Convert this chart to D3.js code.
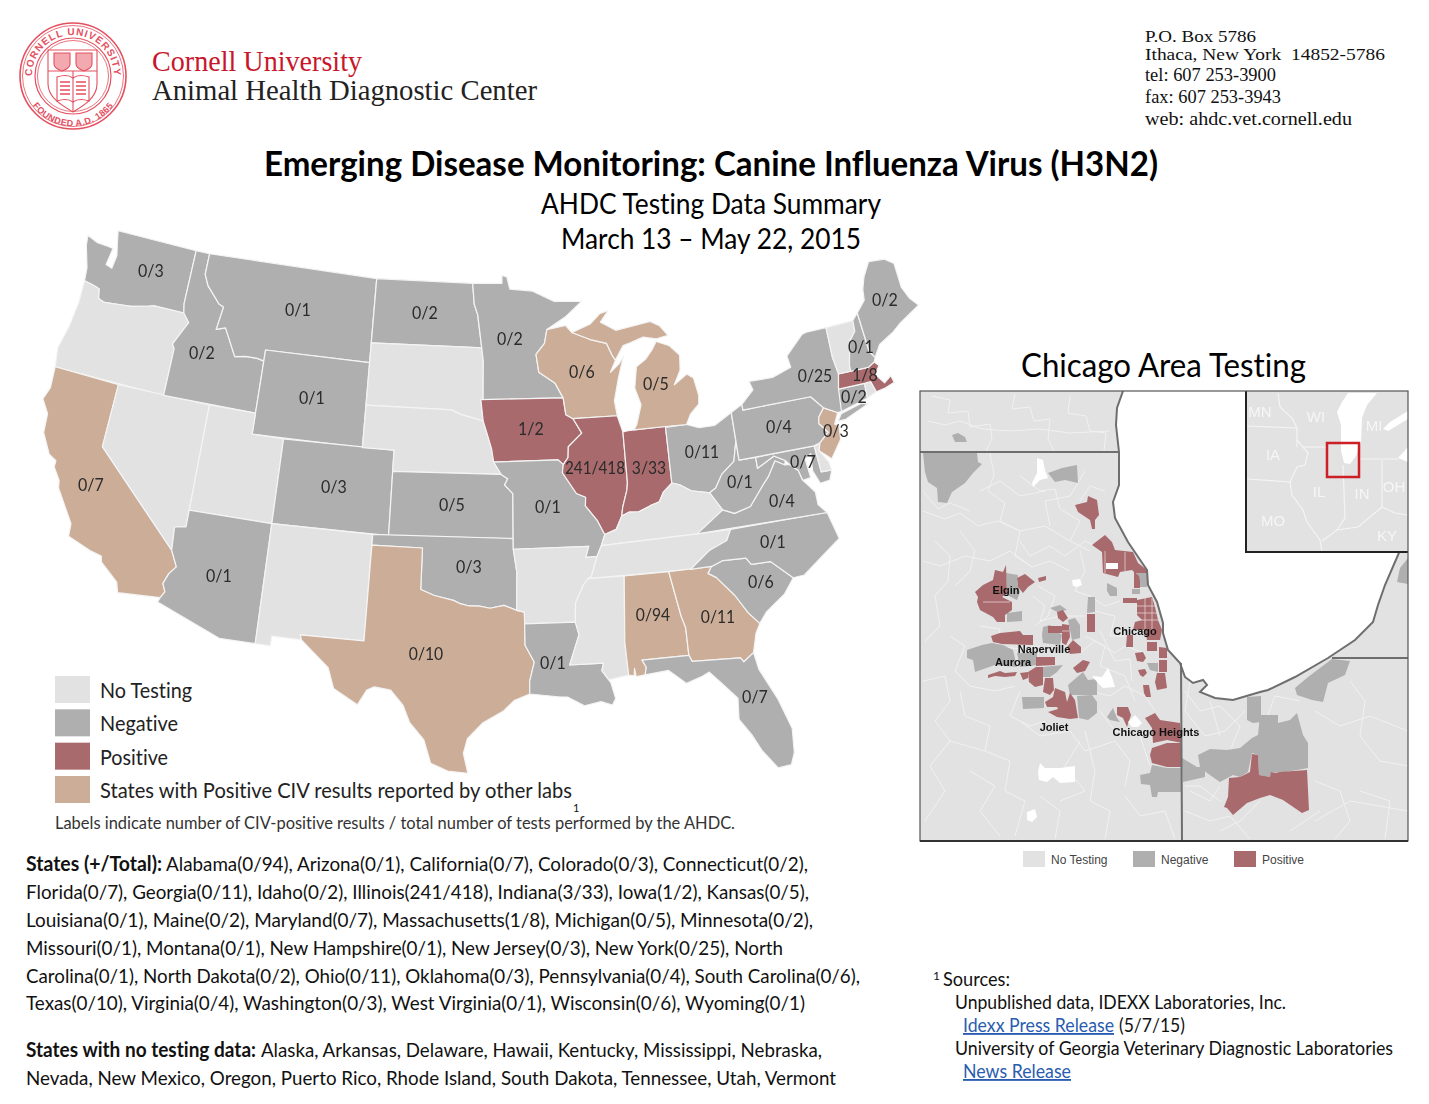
<!DOCTYPE html>
<html>
<head>
<meta charset="utf-8">
<title>Emerging Disease Monitoring: Canine Influenza Virus (H3N2)</title>
<style>
  * { margin: 0; padding: 0; }
  body { background: white; }
  svg { display: block; }
  text { font-family: Lato, "Open Sans", sans-serif; font-variant-ligatures: none; }
  .serif { font-family: "Liberation Serif", serif; }
  .arial { font-family: "Liberation Sans", Arial, sans-serif; }
  .soft { filter: blur(0.45px); }
</style>
</head>
<body>
<svg id="sheet" width="1429" height="1104"></svg>
<script src="https://d3js.org/d3.v7.min.js"></script>
<script>
// test counts per state
const stateCodes = ["WA","MT","ND","MN","ID","WY","CA","CO","KS","OK","AZ","TX","MO","IA","IL","IN","WI","MI","OH","PA","NY","ME","NH","MA","CT","NJ","MD","WV","VA","NC","SC","AL","GA","LA","FL"];
const positives  = [0,0,0,0,0,0,0,0,0,0,0,0,0,1,241,3,0,0,0,0,0,0,0,1,0,0,0,0,0,0,0,0,0,0,0];
const totals     = [3,1,2,2,2,1,7,3,5,3,1,10,1,2,418,33,6,5,11,4,25,2,1,8,2,3,7,1,4,1,6,94,11,1,7];
const otherLabStates = ["CA","TX","WI","MI","AL","GA","NJ"];

const legendLabels = ["No Testing","Negative","Positive","States with Positive CIV results reported by other labs"];
const chicagoLegendLabels = ["No Testing","Negative","Positive"];
const cityLabels = ["Elgin","Chicago","Naperville","Aurora","Joliet","Chicago Heights"];
const insetLabels = ["MN","WI","MI","IA","IL","IN","OH","MO","KY"];

// state outlines, lon/lat
const stateShapes = {
  WA: [[-124.7,48.38],[-123.9,48.17],[-123.1,48.15],[-122.75,48.12],[-122.9,47.3],[-122.45,47.2],[-122.35,47.85],[-122.55,48.4],[-122.75,49],[-117.03,49],[-117.04,46.42],[-116.92,45.99],[-118.98,46],[-119.3,45.93],[-120.5,45.7],[-121.2,45.65],[-122.3,45.55],[-122.75,45.65],[-122.9,46.1],[-123.4,46.2],[-124,46.27],[-124.1,46.9],[-124.6,47.9]],
  OR: [[-124,46.27],[-123.4,46.2],[-122.9,46.1],[-122.75,45.65],[-122.3,45.55],[-121.2,45.65],[-120.5,45.7],[-119.3,45.93],[-118.98,46],[-116.92,45.99],[-116.46,45.6],[-116.85,45],[-117.2,44.45],[-117.03,44.25],[-117.03,42],[-124.2,42],[-124.4,42.9],[-124.1,44],[-123.95,45.2]],
  CA: [[-124.2,42],[-120,42],[-120,39],[-114.6,35],[-114.15,34.28],[-114.5,33.9],[-114.72,33.4],[-114.52,33.03],[-114.72,32.72],[-117.12,32.53],[-117.3,33],[-118.4,33.75],[-118.5,34.03],[-119.2,34.15],[-120.6,34.55],[-120.65,35.15],[-121.9,36.6],[-122,36.96],[-122.5,37.5],[-122.5,37.8],[-123,38],[-123.7,38.9],[-123.8,39.8],[-124.35,40.4],[-124.1,41]],
  NV: [[-120,42],[-114.04,42],[-114.04,36.2],[-114.7,36.1],[-114.6,35],[-120,39]],
  ID: [[-117.03,49],[-116.05,49],[-116.05,48],[-115.7,47.5],[-114.7,46.75],[-114.35,46.65],[-114.55,45.55],[-113.95,45.7],[-113.45,45.05],[-113,44.45],[-112.3,44.55],[-111.5,44.55],[-111.05,44.47],[-111.05,42],[-117.03,42],[-117.03,44.25],[-117.2,44.45],[-116.85,45],[-116.46,45.6],[-116.92,45.99],[-117.04,46.42]],
  MT: [[-116.05,49],[-104.05,49],[-104.05,45],[-111.05,45],[-111.05,44.47],[-111.5,44.55],[-112.3,44.55],[-113,44.45],[-113.45,45.05],[-113.95,45.7],[-114.55,45.55],[-114.35,46.65],[-114.7,46.75],[-115.7,47.5],[-116.05,48]],
  WY: [[-111.05,45],[-104.05,45],[-104.05,41],[-111.05,41]],
  UT: [[-114.04,42],[-111.05,42],[-111.05,41],[-109.05,41],[-109.05,37],[-114.04,37]],
  CO: [[-109.05,41],[-102.05,41],[-102.05,37],[-109.05,37]],
  AZ: [[-114.04,37],[-109.05,37],[-109.05,31.33],[-111.07,31.33],[-114.81,32.5],[-114.72,32.72],[-114.52,33.03],[-114.72,33.4],[-114.5,33.9],[-114.15,34.28],[-114.6,35],[-114.7,36.1],[-114.04,36.2]],
  NM: [[-109.05,37],[-103,37],[-103.05,32],[-106.62,32],[-106.53,31.78],[-108.2,31.78],[-108.2,31.33],[-109.05,31.33]],
  ND: [[-104.05,49],[-97.23,49],[-97.1,48],[-96.85,47.5],[-96.56,45.94],[-104.05,45.94]],
  SD: [[-104.05,45.94],[-96.56,45.94],[-96.45,45.3],[-96.45,43.5],[-96.6,43.5],[-96.44,42.5],[-97.9,42.8],[-98.5,43],[-104.05,43]],
  NE: [[-104.05,43],[-98.5,43],[-97.9,42.8],[-96.44,42.5],[-96.1,41.7],[-95.9,41.2],[-95.77,40.58],[-95.31,40],[-102.05,40],[-102.05,41],[-104.05,41]],
  KS: [[-102.05,40],[-95.31,40],[-94.9,39.8],[-95.1,39.5],[-94.6,39.1],[-94.62,37],[-102.05,37]],
  OK: [[-103,37],[-94.62,37],[-94.62,36.5],[-94.43,35.4],[-94.48,33.64],[-95.2,33.88],[-96,33.75],[-96.6,33.85],[-97.2,33.85],[-97.7,33.95],[-98.1,34.1],[-99.2,34.3],[-100,34.56],[-100,36.5],[-103,36.5]],
  TX: [[-106.62,32],[-103.05,32],[-103,36.5],[-100,36.5],[-100,34.56],[-99.2,34.3],[-98.1,34.1],[-97.7,33.95],[-97.2,33.85],[-96.6,33.85],[-96,33.75],[-95.2,33.88],[-94.48,33.64],[-94.04,33.55],[-94.04,32],[-93.55,31.2],[-93.83,30.3],[-93.84,29.7],[-94.7,29.4],[-95.3,28.9],[-96.4,28.35],[-97.2,27.6],[-97.4,26.9],[-97.15,25.96],[-98.2,26.05],[-99.1,26.4],[-99.5,27.5],[-100.3,28.3],[-100.7,29.1],[-101.4,29.77],[-102.3,29.88],[-102.7,29.7],[-103.15,28.98],[-104.5,29.65],[-104.9,30.6],[-106,31.4],[-106.53,31.78]],
  MN: [[-97.23,49],[-95.15,49],[-95.15,49.38],[-94.8,49.3],[-94.6,48.72],[-93,48.6],[-91.5,48.07],[-89.6,48],[-90.8,47.3],[-92.1,46.75],[-92.3,46.1],[-92.9,45.6],[-92.75,44.75],[-91.7,44.2],[-91.22,43.5],[-96.45,43.5],[-96.45,45.3],[-96.56,45.94],[-96.85,47.5],[-97.1,48]],
  IA: [[-96.6,43.5],[-91.22,43.5],[-91.1,42.7],[-90.65,42.5],[-90.15,41.8],[-91.05,41.2],[-91.1,40.7],[-91.42,40.38],[-91.73,40.61],[-95.77,40.58],[-95.9,41.2],[-96.1,41.7],[-96.44,42.5]],
  MO: [[-95.77,40.58],[-91.73,40.61],[-91.42,40.38],[-91.5,40],[-90.7,39],[-90.15,38.8],[-90.2,38.4],[-89.55,37.7],[-89.15,37],[-89.4,36.5],[-89.7,36],[-90.37,36],[-90.15,36.5],[-94.62,36.5],[-94.62,37],[-94.6,39.1],[-95.1,39.5],[-94.9,39.8],[-95.31,40]],
  AR: [[-94.62,36.5],[-90.15,36.5],[-90.37,36],[-89.7,36],[-90.1,35.1],[-90.6,34.7],[-91.1,33.9],[-91.17,33],[-94.04,33],[-94.04,33.55],[-94.48,33.64],[-94.43,35.4]],
  LA: [[-94.04,33],[-91.17,33],[-91,32.4],[-91.6,31],[-89.73,31],[-89.85,30.65],[-89.5,30.2],[-89.4,30.05],[-89.2,29.3],[-89.4,29],[-90,29.2],[-90.9,29.05],[-91.8,29.5],[-92.3,29.53],[-93.84,29.7],[-93.83,30.3],[-93.55,31.2],[-94.04,32]],
  WI: [[-92.1,46.75],[-90.8,46.9],[-90.4,46.55],[-89.1,46.14],[-88.1,45.92],[-87.8,45.35],[-87.6,45.1],[-88,44.55],[-87.4,44.9],[-87.05,45.25],[-87.53,44.2],[-87.9,43.2],[-87.8,42.49],[-90.65,42.5],[-91.1,42.7],[-91.22,43.5],[-91.7,44.2],[-92.75,44.75],[-92.9,45.6],[-92.3,46.1]],
  IL: [[-90.65,42.5],[-87.8,42.49],[-87.53,41.71],[-87.53,39.35],[-87.6,39],[-87.95,38.2],[-88.05,37.8],[-88.45,37.2],[-89.15,37],[-89.55,37.7],[-90.2,38.4],[-90.15,38.8],[-90.7,39],[-91.5,40],[-91.42,40.38],[-91.1,40.7],[-91.05,41.2],[-90.15,41.8]],
  IN: [[-87.53,41.71],[-87.2,41.75],[-86.82,41.76],[-84.8,41.76],[-84.82,39.1],[-85.4,38.72],[-85.7,38.3],[-86.3,38.15],[-87,37.93],[-87.6,37.95],[-88.05,37.8],[-87.95,38.2],[-87.6,39],[-87.53,39.35]],
  OH: [[-84.8,41.72],[-83.45,41.73],[-82.7,41.5],[-81.7,41.5],[-80.52,41.98],[-80.52,40.64],[-80.85,39.7],[-81.7,39.2],[-82.2,38.6],[-82.6,38.42],[-83.7,38.63],[-84.3,38.95],[-84.82,39.1]],
  KY: [[-89.4,36.5],[-89.15,37],[-88.45,37.2],[-88.05,37.8],[-87.6,37.95],[-87,37.93],[-86.3,38.15],[-85.7,38.3],[-85.4,38.72],[-84.82,39.1],[-84.3,38.95],[-83.7,38.63],[-82.6,38.42],[-81.97,37.54],[-83.68,36.6]],
  TN: [[-89.4,36.5],[-83.68,36.6],[-81.68,36.59],[-82,36.1],[-83.1,35.75],[-84.32,34.99],[-90.3,35],[-90.1,35.1],[-89.7,36]],
  MS: [[-90.3,35],[-88.2,35],[-88.47,31.9],[-88.4,30.35],[-89.5,30.2],[-89.85,30.65],[-89.73,31],[-91.6,31],[-91,32.4],[-91.17,33],[-91.1,33.9],[-90.6,34.7]],
  AL: [[-88.2,35],[-85.6,35],[-85.18,32.87],[-85,32.3],[-85,31],[-87.6,31],[-87.4,30.65],[-87.5,30.3],[-88,30.25],[-88.05,30.65],[-88.1,30.3],[-88.4,30.35],[-88.47,31.9]],
  GA: [[-85.6,35],[-83.1,35],[-83.35,34.7],[-82.9,34.45],[-82,33.5],[-81.4,32.6],[-80.85,32.03],[-81.15,31.6],[-81.45,30.72],[-82.05,30.36],[-82.2,30.57],[-84.86,30.7],[-85,31],[-85,32.3],[-85.18,32.87]],
  FL: [[-87.6,31],[-85,31],[-84.86,30.7],[-82.2,30.57],[-82.05,30.36],[-81.45,30.72],[-81.3,29.9],[-80.55,28.4],[-80.05,26.9],[-80.15,25.75],[-80.4,25.2],[-81.1,25.15],[-81.8,26.1],[-82.2,26.9],[-82.75,27.7],[-82.65,28.7],[-83.4,29.5],[-84,30.1],[-84.4,29.95],[-85.3,29.7],[-86.2,30.4],[-87.5,30.3],[-87.4,30.65]],
  SC: [[-83.35,34.7],[-83.1,35],[-82.4,35.2],[-81.05,35.15],[-80.8,34.82],[-79.67,34.8],[-78.55,33.87],[-79.2,33.2],[-80.4,32.5],[-80.85,32.03],[-81.4,32.6],[-82,33.5],[-82.9,34.45]],
  NC: [[-84.32,34.99],[-83.1,35.75],[-82,36.1],[-81.68,36.59],[-75.87,36.55],[-75.5,35.25],[-76.5,34.7],[-77.9,33.9],[-78.55,33.87],[-79.67,34.8],[-80.8,34.82],[-81.05,35.15],[-82.4,35.2],[-83.1,35]],
  VA: [[-83.68,36.6],[-75.87,36.55],[-76.3,37],[-76.3,37.6],[-76.9,38.25],[-77.05,38.75],[-77.5,39.1],[-77.8,39.13],[-78.35,39.4],[-78.9,38.75],[-79.3,38.42],[-80.3,37.5],[-81.3,37.3],[-81.97,37.54]],
  WV: [[-82.6,38.42],[-82.2,38.6],[-81.7,39.2],[-80.85,39.7],[-80.52,40.64],[-80.52,39.72],[-79.48,39.72],[-79.48,39.2],[-78.35,39.63],[-77.72,39.32],[-77.8,39.13],[-78.35,39.4],[-78.9,38.75],[-79.3,38.42],[-80.3,37.5],[-81.3,37.3],[-81.97,37.54]],
  MD: [[-79.48,39.72],[-75.79,39.72],[-75.7,38.46],[-75.05,38.45],[-75.3,38],[-75.9,37.95],[-76.2,38.6],[-76.1,39.4],[-76.5,39.2],[-76.4,38.3],[-76.9,38.25],[-77.05,38.75],[-77.5,39.1],[-77.72,39.32],[-78.35,39.63],[-79.48,39.2]],
  DE: [[-75.79,39.72],[-75.4,39.8],[-75.55,39.45],[-75.1,38.8],[-75.05,38.45],[-75.7,38.46]],
  PA: [[-80.52,41.98],[-79.76,42.27],[-79.76,42],[-75.35,42],[-74.7,41.36],[-75.13,40.98],[-75.2,40.68],[-74.75,40.2],[-75.4,39.8],[-75.79,39.72],[-80.52,39.72]],
  NJ: [[-74.7,41.36],[-73.9,41],[-74.25,40.5],[-74,40.4],[-74.1,39.75],[-74.9,38.95],[-75.55,39.45],[-75.4,39.8],[-74.75,40.2],[-75.2,40.68],[-75.13,40.98]],
  NY: [[-79.76,42.27],[-78.9,42.85],[-79.05,43.27],[-77.5,43.25],[-76.2,43.55],[-76.3,44.1],[-75,44.95],[-74.7,45],[-73.35,45],[-73.4,43.6],[-73.27,42.75],[-73.5,42.05],[-73.5,41.3],[-73.65,41],[-73.9,41],[-74.7,41.36],[-75.35,42],[-79.76,42]],
  CT: [[-73.5,42.05],[-71.8,42.02],[-71.85,41.32],[-73.65,41]],
  RI: [[-71.8,42.02],[-71.38,42.02],[-71.2,41.5],[-71.85,41.32]],
  MA: [[-73.5,42.05],[-73.27,42.75],[-71.3,42.7],[-70.85,42.87],[-70.6,42.65],[-71,42.3],[-70.55,41.8],[-70.05,42.05],[-69.95,41.7],[-70.65,41.55],[-71.2,41.5],[-71.38,42.02],[-71.8,42.02]],
  VT: [[-73.35,45],[-71.5,45.01],[-71.55,44.5],[-72.05,44.1],[-72.45,43],[-72.46,42.73],[-73.27,42.75],[-73.4,43.6]],
  NH: [[-71.5,45.01],[-71.08,45.3],[-70.98,43.4],[-70.7,43.07],[-70.85,42.87],[-71.3,42.7],[-72.46,42.73],[-72.45,43],[-72.05,44.1],[-71.55,44.5]],
  ME: [[-71.08,45.3],[-70.4,45.8],[-70.3,46.3],[-70,46.85],[-69.4,47.5],[-68.3,47.4],[-67.75,47.07],[-67.75,45.9],[-67.45,45.3],[-67,44.85],[-68.5,44.3],[-69.1,44],[-70.2,43.6],[-70.7,43.07],[-70.98,43.4]]
};
// pieces that belong to a state but are separate landmasses
const extraShapes = [
  { state: "NY", pts: [[-74,40.6],[-73.7,40.9],[-72.3,41.15],[-71.9,41.05],[-73.5,40.6]] },
  { state: "MI", pts: [[-86.82,41.76],[-84.8,41.76],[-83.45,41.73],[-83.1,42.2],[-82.5,42.6],[-82.42,43],[-82.6,43.85],[-83,44.07],[-83.9,43.65],[-83.4,44.3],[-83.3,45],[-83.9,45.5],[-84.75,45.78],[-85.1,45.4],[-85.6,45],[-86.25,44.7],[-86.5,43.7],[-86.2,42.9],[-86.6,42]] },
  { state: "MI", pts: [[-90.4,46.55],[-89.1,46.9],[-88.4,47.35],[-87.8,47.47],[-88.4,46.95],[-87.4,46.5],[-86,46.65],[-85,46.75],[-84.4,46.5],[-83.9,46],[-84.7,45.9],[-85.6,46.05],[-86.5,45.85],[-87,45.75],[-87.6,45.1],[-87.8,45.35],[-88.1,45.92],[-89.1,46.14]] }
];

// Chicago map zip areas, in grid units of that map
const zipPositive = [
  [[155,114],[167,111],[168,105],[177,109],[179,124],[175,129],[175,138],[172,138],[170,129],[158,121]],
  [[172,154],[185,144],[192,151],[195,159],[213,161],[218,172],[227,179],[228,182],[215,182],[212,179],[200,181],[198,186],[183,182],[182,161]],
  [[214,180],[219,185],[220,190],[220,197],[214,197]],
  [[203,207],[217,207],[217,209],[232,206],[235,216],[238,229],[242,239],[240,249],[227,249],[225,239],[213,239],[215,231],[222,229],[217,224],[217,212],[203,212]],
  [[207,244],[213,244],[213,256],[206,256]],
  [[227,251],[237,251],[237,260],[227,260]],
  [[239,256],[247,257],[247,267],[239,267]],
  [[239,269],[247,269],[247,281],[239,281]],
  [[237,282],[245,282],[247,297],[237,299],[235,291]],
  [[215,262],[223,261],[226,267],[223,271],[217,270]],
  [[218,279],[225,278],[227,282],[223,286],[220,284]],
  [[223,294],[229,294],[231,306],[226,306],[224,302]],
  [[55,201],[63,194],[73,189],[75,179],[83,181],[86,174],[87,202],[82,206],[92,211],[92,219],[85,224],[85,231],[77,231],[73,226],[60,219],[57,211],[58,206]],
  [[97,187],[105,183],[115,191],[108,196],[103,202],[98,196]],
  [[118,187],[126,185],[126,189],[119,191]],
  [[167,223],[175,223],[175,241],[167,241]],
  [[137,221],[143,219],[148,227],[143,231],[138,227]],
  [[128,235],[142,235],[142,242],[128,242]],
  [[142,233],[149,234],[150,246],[146,254],[142,252]],
  [[147,256],[153,249],[161,256],[161,262],[150,263]],
  [[71,245],[80,242],[100,240],[103,244],[113,244],[113,254],[82,253],[73,251]],
  [[116,266],[135,266],[135,274],[116,275]],
  [[108,281],[116,276],[123,276],[123,294],[115,296],[109,291]],
  [[68,284],[80,280],[85,282],[97,281],[95,285],[85,286],[75,285],[68,287]],
  [[100,282],[108,281],[108,287],[103,289]],
  [[153,277],[163,269],[170,271],[165,280],[157,282]],
  [[125,287],[133,287],[134,299],[130,304],[123,301]],
  [[125,311],[133,306],[135,297],[145,301],[147,311],[150,302],[155,309],[158,327],[150,328],[137,326],[128,321],[138,318],[137,316],[127,316]],
  [[197,316],[208,316],[211,324],[207,336],[203,327],[197,324]],
  [[225,327],[235,322],[240,329],[260,332],[262,352],[247,349],[233,352],[232,337]],
  [[232,357],[247,352],[261,352],[261,376],[247,376],[232,372],[230,364]],
  [[332,363],[338,364],[339,384],[350,386],[351,381],[356,382],[360,381],[387,379],[389,419],[382,422],[363,409],[350,404],[340,407],[327,412],[313,424],[307,417],[304,416],[308,406],[309,387],[320,386],[330,381]]
];
const zipNegative = [
  [[3,62],[57,62],[58,71],[62,73],[53,82],[45,92],[32,101],[27,112],[18,111],[17,97],[8,91],[5,81]],
  [[32,44],[38,42],[45,46],[47,51],[35,51]],
  [[128,82],[142,77],[157,74],[158,92],[145,89],[135,91]],
  [[217,182],[227,182],[227,196],[217,196]],
  [[187,192],[197,197],[197,205],[190,205],[187,200]],
  [[212,198],[220,198],[220,203],[212,203]],
  [[227,272],[238,272],[238,281],[230,279]],
  [[86,182],[98,184],[97,192],[100,201],[97,209],[83,202],[87,196]],
  [[87,222],[102,220],[102,230],[87,231]],
  [[168,206],[175,206],[175,221],[167,222]],
  [[130,217],[140,214],[147,219],[137,221]],
  [[148,229],[155,227],[160,234],[160,247],[152,249],[150,239]],
  [[123,236],[130,234],[142,244],[140,254],[123,252],[122,244]],
  [[47,259],[62,254],[72,252],[83,254],[93,259],[97,276],[75,274],[55,281],[53,269],[47,267]],
  [[97,262],[117,262],[117,274],[100,276]],
  [[123,276],[143,274],[137,281],[130,286],[123,286]],
  [[148,294],[163,281],[168,289],[177,288],[177,304],[158,304],[150,304]],
  [[102,306],[124,306],[124,317],[103,318]],
  [[157,305],[172,304],[177,311],[177,322],[168,329],[159,327]],
  [[187,326],[193,317],[197,327],[200,331],[190,329]],
  [[220,384],[230,382],[232,374],[247,377],[261,377],[261,401],[238,401],[237,406],[232,406],[230,394],[221,393]],
  [[262,367],[277,376],[285,376],[285,386],[263,391]],
  [[278,364],[290,358],[307,359],[320,357],[332,347],[338,344],[340,324],[358,324],[358,332],[370,329],[377,322],[383,344],[388,352],[388,377],[360,382],[352,381],[350,386],[339,384],[338,364],[332,362],[328,381],[320,386],[313,384],[300,391],[287,382],[280,376]],
  [[327,306],[341,305],[341,331],[333,332],[327,329]],
  [[375,297],[388,286],[412,268],[430,270],[425,284],[408,292],[403,311],[392,309],[377,304]],
  [[480,177],[488,167],[488,193],[477,191]]
];
const zipMissing = [
  [[117,67],[123,69],[125,79],[128,87],[120,89],[113,96],[112,92],[117,82]],
  [[186,172],[198,172],[198,178],[186,178]],
  [[152,189],[160,188],[162,194],[157,196],[153,195]],
  [[172,285],[182,286],[188,277],[192,286],[195,296],[183,297],[177,291]],
  [[208,331],[215,324],[222,332],[218,336],[212,336]],
  [[120,372],[125,377],[140,377],[155,375],[155,391],[140,392],[133,386],[127,391],[119,389],[118,381]],
  [[107,421],[115,418],[117,426],[112,431],[107,429]]
];
const zipLines = [
  [[12,5],[30,9],[28,22],[48,20],[50,36],[70,33],[72,48],[66,60]],
  [[95,3],[92,18],[110,16],[114,30],[130,28],[128,48],[134,60]],
  [[150,5],[148,22],[166,25],[170,40],[186,42],[184,60]],
  [[8,30],[25,34],[40,30],[62,38],[90,40],[120,38],[150,42],[190,40]],
  [[70,62],[74,84],[68,100],[85,112],[80,130],[100,140],[95,165],[112,176]],
  [[100,85],[120,100],[135,98],[140,118],[160,130],[150,150],[170,160]],
  [[3,120],[25,128],[40,122],[58,135],[78,130],[100,140],[125,135],[150,150]],
  [[15,150],[30,165],[28,190],[15,205],[20,235],[5,250]],
  [[40,140],[55,160],[50,180],[35,195]],
  [[3,170],[20,175],[45,165],[70,170],[90,160],[112,176],[130,170],[150,180]],
  [[118,195],[135,205],[128,225],[115,235]],
  [[160,160],[165,180],[155,200],[170,205],[185,215],[200,210]],
  [[175,220],[195,225],[190,245],[205,245]],
  [[165,245],[185,255],[180,275],[205,285],[215,310]],
  [[3,290],[25,285],[30,310],[15,330],[30,350],[10,375],[25,400],[5,430]],
  [[40,300],[45,325],[70,335],[65,360],[90,370],[85,400],[105,410],[95,445]],
  [[30,350],[65,360]],
  [[100,330],[120,345],[150,340],[165,360],[195,350],[210,370],[205,395]],
  [[165,340],[175,380],[170,410],[190,420],[185,448]],
  [[120,405],[140,420],[135,448]],
  [[205,405],[220,425],[245,420],[255,448]],
  [[265,300],[280,320],[300,315],[320,335],[310,360]],
  [[270,400],[290,410],[300,395]],
  [[265,420],[290,430],[310,425],[330,448]],
  [[395,390],[420,400],[430,430],[415,448]],
  [[395,320],[420,335],[450,325],[488,340]],
  [[430,290],[445,310],[440,345],[460,370],[488,375]],
  [[400,420],[370,440]],
  [[440,400],[470,410],[465,448]],
  [[100,150],[110,165],[130,155],[145,165],[165,150],[185,160]],
  [[60,235],[80,238],[78,255],[100,258],[120,255]],
  [[113,205],[125,215],[120,230],[140,225],[165,225]],
  [[160,262],[175,250],[195,262],[205,255],[225,262]],
  [[170,300],[190,305],[205,295],[225,305],[235,320]],
  [[180,240],[195,270],[210,268],[212,290]],
  [[30,245],[45,255],[35,280],[50,295],[75,300],[95,295]],
  [[100,300],[90,325],[110,335],[125,330]],
  [[180,320],[195,340],[220,345],[230,375]],
  [[270,290],[265,320],[285,345],[305,340],[325,320]],
  [[290,310],[300,345]],
  [[300,440],[320,430],[340,410]],
  [[3,100],[18,118],[30,112],[50,120]],
  [[60,100],[80,90],[100,105],[125,100]],
  [[165,80],[150,105],[125,110],[130,135]],
  [[185,100],[170,95],[160,110]],
  [[300,410],[280,395],[265,395]],
  [[340,345],[355,305],[380,310]],
  [[160,350],[145,375],[165,400],[140,410]],
  [[50,380],[75,395],[60,420],[80,445]],
  [[395,430],[430,410],[488,420]]
];
// zip edges that show through the coloured areas in the city
const cityBlockLines = [
  [[217,215],[235,215]],[[217,222],[237,222]],[[218,229],[239,229]],[[225,207],[225,240]],[[232,207],[232,240]],
  [[185,160],[185,182]],[[205,161],[205,181]],[[63,211],[90,211]],[[142,240],[149,240]]
];
const lakeShore = [[203,0],[197,17],[196,34],[199,61],[199,94],[193,111],[195,127],[208,151],[227,179],[228,194],[237,211],[243,232],[243,242],[248,259],[260,272],[265,286],[273,292],[283,289],[287,294],[280,301],[295,307],[313,309],[340,301],[348,299],[375,286],[408,267],[435,249],[453,231],[458,214],[465,194],[478,164],[488,140]];
const chicagoBorders = [
  [[0,61],[199,61]],
  [[261,272],[262,450]],
  [[412,267],[488,267]]
];
// small locator map in the corner of the Chicago map, same grid
const insetLakes = [
  [[422,11],[428,2],[457,2],[447,14],[442,27],[441,51],[436,65],[430,73],[424,72],[421,60],[421,34],[417,21]],
  [[488,56],[478,67],[488,71]],
  [[488,20],[470,31],[463,38],[468,40],[488,28]]
];
const insetLines = [
  [[358,2],[360,16],[372,27],[377,37],[377,56]],
  [[327,35],[377,37]],
  [[383,56],[408,56]],
  [[377,49],[388,62],[385,74],[377,76],[370,91],[372,104],[383,119],[387,131],[400,149],[402,160]],
  [[327,88],[370,91]],
  [[423,74],[425,127],[417,139]],
  [[439,68],[478,68]],
  [[462,69],[462,116]],
  [[402,150],[417,139],[438,136],[462,116],[475,122],[488,124]]
];

const cat = { none: "#e2e2e2", neg: "#afafaf", pos: "#a96a6d", other: "#ccad97" };
const svg = d3.select("#sheet");

// same projection family as the source map
const projection = d3.geoConicEqualArea()
  .parallels([29.5, 45.5]).rotate([96, 0]).center([0, 37.5])
  .scale(1215).translate([490, 528]);
const shapeLine = d3.line();
const statePath = pts => shapeLine(pts.map(d => projection(d))) + "Z";

const resultByState = new Map(stateCodes.map((s, i) => [s, { pos: positives[i], total: totals[i] }]));
function stateColor(code) {
  if (otherLabStates.includes(code)) return cat.other;
  const r = resultByState.get(code);
  if (!r) return cat.none;
  return r.pos > 0 ? cat.pos : cat.neg;
}

// write a single line of text and force it to a known width
function line(x, y, str, width, opts = {}) {
  const t = svg.append("text").attr("x", x).attr("y", y).text(str)
    .attr("font-size", opts.size || 20)
    .attr("font-weight", opts.bold ? 700 : 400)
    .attr("fill", opts.fill || "#111")
    .attr("class", opts.cls || null);
  if (width) t.attr("textLength", width).attr("lengthAdjust", "spacingAndGlyphs");
  if (opts.underline) t.attr("text-decoration", "underline");
  return t;
}

// ---- letterhead
drawSeal(svg.append("g").attr("transform", "translate(73,76)"));
line(152, 71, "Cornell University", 210, { size: 29, fill: "#c8172b", cls: "serif" });
line(152, 100, "Animal Health Diagnostic Center", 385, { size: 29, fill: "#222", cls: "serif" });
line(1145, 42, "P.O. Box 5786", 111, { size: 17, cls: "serif" });
line(1145, 60, "Ithaca, New York  14852-5786", 240, { size: 17, cls: "serif" }).style("white-space", "pre");
line(1145, 81, "tel: 607 253-3900", 131, { size: 19, cls: "serif" });
line(1145, 103, "fax: 607 253-3943", 136, { size: 19, cls: "serif" });
line(1145, 125, "web: ahdc.vet.cornell.edu", 207, { size: 19, cls: "serif" });

line(264, 176, "Emerging Disease Monitoring: Canine Influenza Virus (H3N2)", 894, { size: 34, bold: true, fill: "#000" });
line(541, 214, "AHDC Testing Data Summary", 340, { size: 28, fill: "#000" });
line(561, 249, "March 13 – May 22, 2015", 300, { size: 28, fill: "#000" });

// ---- national map
const states = svg.append("g").attr("class", "soft").attr("stroke", "#f4f4f4").attr("stroke-width", 1.2).attr("stroke-linejoin", "round");
states.selectAll("path.state").data(Object.keys(stateShapes)).join("path")
  .attr("class", "state")
  .attr("d", d => statePath(stateShapes[d]))
  .attr("fill", stateColor);
states.selectAll("path.extra").data(extraShapes).join("path")
  .attr("class", "extra")
  .attr("d", d => statePath(d.pts))
  .attr("fill", d => stateColor(d.state));

const labelAt = { WA:[151,270], MT:[298,309], ND:[425,312], MN:[510,338], ID:[202,352], WY:[312,397], CA:[91,484], CO:[334,486], KS:[452,504], OK:[469,566], AZ:[219,575], TX:[426,653], MO:[548,506], IA:[531,428], IL:[595,467], IN:[649,467], WI:[582,371], MI:[656,383], OH:[702,451], PA:[779,426], NY:[815,375], ME:[885,299], NH:[861,346], MA:[865,374], CT:[854,396], NJ:[836,430], MD:[803,461], WV:[740,481], VA:[782,500], NC:[773,541], SC:[761,581], AL:[653,614], GA:[718,616], LA:[553,662], FL:[755,696] };
svg.append("g").attr("class", "soft").selectAll("text").data(stateCodes).join("text")
  .attr("x", d => labelAt[d][0]).attr("y", d => labelAt[d][1])
  .attr("text-anchor", "middle").attr("dominant-baseline", "central")
  .attr("font-size", 18).attr("fill", "#2b2b2b")
  .text((d, i) => positives[i] + "/" + totals[i])
  .attr("textLength", function() { return this.textContent.length * 8.6; })
  .attr("lengthAdjust", "spacingAndGlyphs");

// ---- national legend
const legendColors = d3.scaleOrdinal().domain(legendLabels).range([cat.none, cat.neg, cat.pos, cat.other]);
const legendY = d3.scalePoint().domain(legendLabels).range([676, 776]);
const legendWidths = [92, 78, 68, 472];
const legend = svg.append("g");
legend.selectAll("rect").data(legendLabels).join("rect")
  .attr("x", 55).attr("y", d => legendY(d)).attr("width", 35).attr("height", 27)
  .attr("fill", d => legendColors(d));
legendLabels.forEach((d, i) => line(100, legendY(d) + 22, d, legendWidths[i], { size: 21, fill: "#222" }));
line(55, 829, "Labels indicate number of CIV-positive results / total number of tests performed by the AHDC.", 680, { size: 16.5, fill: "#333" });
line(573, 812, "1", null, { size: 11, fill: "#111" });

// ---- state lists
line(26, 871, "States (+/Total):", 136, { bold: true });
line(166, 871, "Alabama(0/94), Arizona(0/1), California(0/7), Colorado(0/3), Connecticut(0/2),", 642);
line(26, 899, "Florida(0/7), Georgia(0/11), Idaho(0/2), Illinois(241/418), Indiana(3/33), Iowa(1/2), Kansas(0/5),", 783);
line(26, 927, "Louisiana(0/1), Maine(0/2), Maryland(0/7), Massachusetts(1/8), Michigan(0/5), Minnesota(0/2),", 787);
line(26, 955, "Missouri(0/1), Montana(0/1), New Hampshire(0/1), New Jersey(0/3), New York(0/25), North", 757);
line(26, 983, "Carolina(0/1), North Dakota(0/2), Ohio(0/11), Oklahoma(0/3), Pennsylvania(0/4), South Carolina(0/6),", 834);
line(26, 1010, "Texas(0/10), Virginia(0/4), Washington(0/3), West Virginia(0/1), Wisconsin(0/6), Wyoming(0/1)", 779);
line(26, 1057, "States with no testing data:", 230, { bold: true });
line(261, 1057, "Alaska, Arkansas, Delaware, Hawaii, Kentucky, Mississippi, Nebraska,", 561);
line(26, 1085, "Nevada, New Mexico, Oregon, Puerto Rico, Rhode Island, South Dakota, Tennessee, Utah, Vermont", 810);

// ---- sources
line(933, 980, "1", null, { size: 12 });
line(943, 986, "Sources:", 67, { size: 18.5 });
line(955, 1009, "Unpublished data, IDEXX Laboratories, Inc.", 331, { size: 18.5 });
line(963, 1032, "Idexx Press Release", 151, { size: 18.5, fill: "#2a5db0", underline: true });
line(1119, 1032, "(5/7/15)", 66, { size: 18.5 });
line(955, 1055, "University of Georgia Veterinary Diagnostic Laboratories", 438, { size: 18.5 });
line(963, 1078, "News Release", 108, { size: 18.5, fill: "#2a5db0", underline: true });

// ---- Chicago map
line(1021, 377, "Chicago Area Testing", 285, { size: 32, fill: "#000" });

const gx = d3.scaleLinear().domain([0, 488]).range([920, 1408]);
const gy = d3.scaleLinear().domain([0, 450]).range([391, 841]);
const gridLine = d3.line().x(d => gx(d[0])).y(d => gy(d[1]));

svg.append("defs").append("clipPath").attr("id", "frame").append("rect")
  .attr("x", gx(0)).attr("y", gy(0)).attr("width", gx(488) - gx(0)).attr("height", gy(450) - gy(0));
const chi = svg.append("g").attr("clip-path", "url(#frame)").append("g").attr("class", "soft");
chi.append("rect").attr("x", gx(0)).attr("y", gy(0))
  .attr("width", gx(488) - gx(0)).attr("height", gy(450) - gy(0)).attr("fill", cat.none);
chi.selectAll("path.zipline").data(zipLines).join("path").attr("class", "zipline")
  .attr("d", gridLine).attr("fill", "none").attr("stroke", "#f1f1f1").attr("stroke-width", 1);
const zipGroups = [[zipNegative, cat.neg], [zipPositive, cat.pos], [zipMissing, "#fff"]];
zipGroups.forEach(([shapes, color], k) => {
  chi.selectAll("path.zip" + k).data(shapes).join("path").attr("class", "zip" + k)
    .attr("d", d => gridLine(d) + "Z").attr("fill", color);
});
chi.selectAll("path.block").data(cityBlockLines).join("path").attr("class", "block")
  .attr("d", gridLine).attr("fill", "none").attr("stroke", "#e6cfcf").attr("stroke-width", 0.8);
// lake: closes along the top and right edge, under the locator map
chi.append("path").datum(lakeShore.concat([[488, 0]]))
  .attr("d", d => gridLine(d) + "Z").attr("fill", "#fff").attr("stroke", "none");
chi.append("path").datum(lakeShore).attr("d", gridLine).attr("fill", "none").attr("stroke", "#6e6e6e").attr("stroke-width", 2);
chi.selectAll("path.border").data(chicagoBorders).join("path").attr("class", "border")
  .attr("d", gridLine).attr("fill", "none").attr("stroke", "#6e6e6e").attr("stroke-width", 2);

const cityAt = { "Elgin":[1006,590], "Chicago":[1135,631], "Naperville":[1044,649], "Aurora":[1013,662], "Joliet":[1054,727], "Chicago Heights":[1156,732] };
chi.selectAll("text.city").data(cityLabels).join("text").attr("class", "city arial")
  .attr("x", d => cityAt[d][0]).attr("y", d => cityAt[d][1])
  .attr("text-anchor", "middle").attr("dominant-baseline", "central")
  .attr("font-size", 11).attr("font-weight", 700).attr("fill", "#111").text(d => d);

// locator map
const inset = chi.append("g");
inset.append("rect").attr("x", gx(326)).attr("y", gy(0)).attr("width", gx(488) - gx(326)).attr("height", gy(161) - gy(0))
  .attr("fill", cat.none);
inset.selectAll("path.lake").data(insetLakes).join("path").attr("class", "lake")
  .attr("d", d => gridLine(d) + "Z").attr("fill", "#fff");
inset.selectAll("path.il").data(insetLines).join("path").attr("class", "il")
  .attr("d", gridLine).attr("fill", "none").attr("stroke", "#f4f4f4").attr("stroke-width", 1.2);
const insetAt = { MN:[1260,411], WI:[1316,416], MI:[1374,425], IA:[1273,454], IL:[1319,491], IN:[1362,493], OH:[1394,486], MO:[1273,520], KY:[1387,535] };
inset.selectAll("text").data(insetLabels).join("text").attr("class", "arial")
  .attr("x", d => insetAt[d][0]).attr("y", d => insetAt[d][1])
  .attr("text-anchor", "middle").attr("dominant-baseline", "central")
  .attr("font-size", 15).attr("fill", "#f6f6f6").text(d => d);
inset.append("rect").attr("x", gx(407)).attr("y", gy(52)).attr("width", gx(439) - gx(407)).attr("height", gy(86) - gy(52))
  .attr("fill", "none").attr("stroke", "#cc1f26").attr("stroke-width", 2.5);
inset.append("path").attr("d", `M${gx(326)},${gy(0)}V${gy(161)}H${gx(488)}`)
  .attr("fill", "none").attr("stroke", "#222").attr("stroke-width", 2);

svg.append("rect").attr("x", gx(0)).attr("y", gy(0)).attr("width", gx(488) - gx(0)).attr("height", gy(450) - gy(0))
  .attr("fill", "none").attr("stroke", "#555").attr("stroke-width", 1.2);
svg.append("path").attr("d", `M${gx(0)},${gy(450)}H${gx(488)}`).attr("stroke", "#333").attr("stroke-width", 2);

// Chicago legend
const chiLegendX = [1023, 1133, 1234];
const chiLegendColors = [cat.none, cat.neg, cat.pos];
const chiLegend = svg.append("g");
chiLegend.selectAll("rect").data(chicagoLegendLabels).join("rect")
  .attr("x", (d, i) => chiLegendX[i]).attr("y", 851).attr("width", 22).attr("height", 16)
  .attr("fill", (d, i) => chiLegendColors[i]);
chiLegend.selectAll("text").data(chicagoLegendLabels).join("text").attr("class", "arial")
  .attr("x", (d, i) => chiLegendX[i] + 28).attr("y", 860)
  .attr("dominant-baseline", "central").attr("font-size", 12).attr("fill", "#444").text(d => d);

// ---- seal
function drawSeal(g) {
  const red = "#e4505f";
  [[53, 1.6], [50.5, 0.8], [38, 1.2], [35.5, 0.8]].forEach(([r, w]) => {
    g.append("circle").attr("r", r).attr("fill", "none").attr("stroke", red).attr("stroke-width", w);
  });
  const defs = g.append("defs");
  defs.append("path").attr("id", "sealTop").attr("d", "M-40,9A41,41 0 1 1 40,9");
  defs.append("path").attr("id", "sealBottom").attr("d", "M-44,24A50,50 0 0 0 44,24");
  g.append("text").attr("font-size", 10).attr("font-weight", 700).attr("fill", red).attr("letter-spacing", 1)
    .attr("class", "arial").attr("text-anchor", "middle")
    .append("textPath").attr("href", "#sealTop").attr("startOffset", "50%").text("CORNELL UNIVERSITY");
  g.append("text").attr("font-size", 9).attr("font-weight", 700).attr("fill", red).attr("letter-spacing", 0.4)
    .attr("class", "arial").attr("text-anchor", "middle")
    .append("textPath").attr("href", "#sealBottom").attr("startOffset", "50%").text("FOUNDED A.D. 1865");
  const s = g.append("g").attr("fill", "none").attr("stroke", red).attr("stroke-width", 1.1);
  s.append("path").attr("d", "M-25,-26H24V8C24,22 10,30 0,36C-10,30 -25,22 -25,8Z");
  s.append("path").attr("d", "M-25,-5H24M0,-5V36");
  s.append("path").attr("d", "M-19,-23H-3V-12C-3,-8 -8,-6 -11,-5C-14,-6 -19,-8 -19,-12Z").attr("fill", "#f3a9b0");
  s.append("path").attr("d", "M3,-23H19V-12C19,-8 14,-6 11,-5C8,-6 3,-8 3,-12Z").attr("fill", "#f3a9b0");
  s.append("path").attr("d", "M-16,1C-10,-1 -4,-1 0,2C4,-1 10,-1 16,1V25C10,23 4,23 0,26C-4,23 -10,23 -16,25Z");
  s.append("path").attr("d", "M-13,6H-3M-13,10H-3M-13,14H-3M-13,18H-3M3,6H13M3,10H13M3,14H13M3,18H13").attr("stroke-width", 1.4);
}
</script>
</body>
</html>
